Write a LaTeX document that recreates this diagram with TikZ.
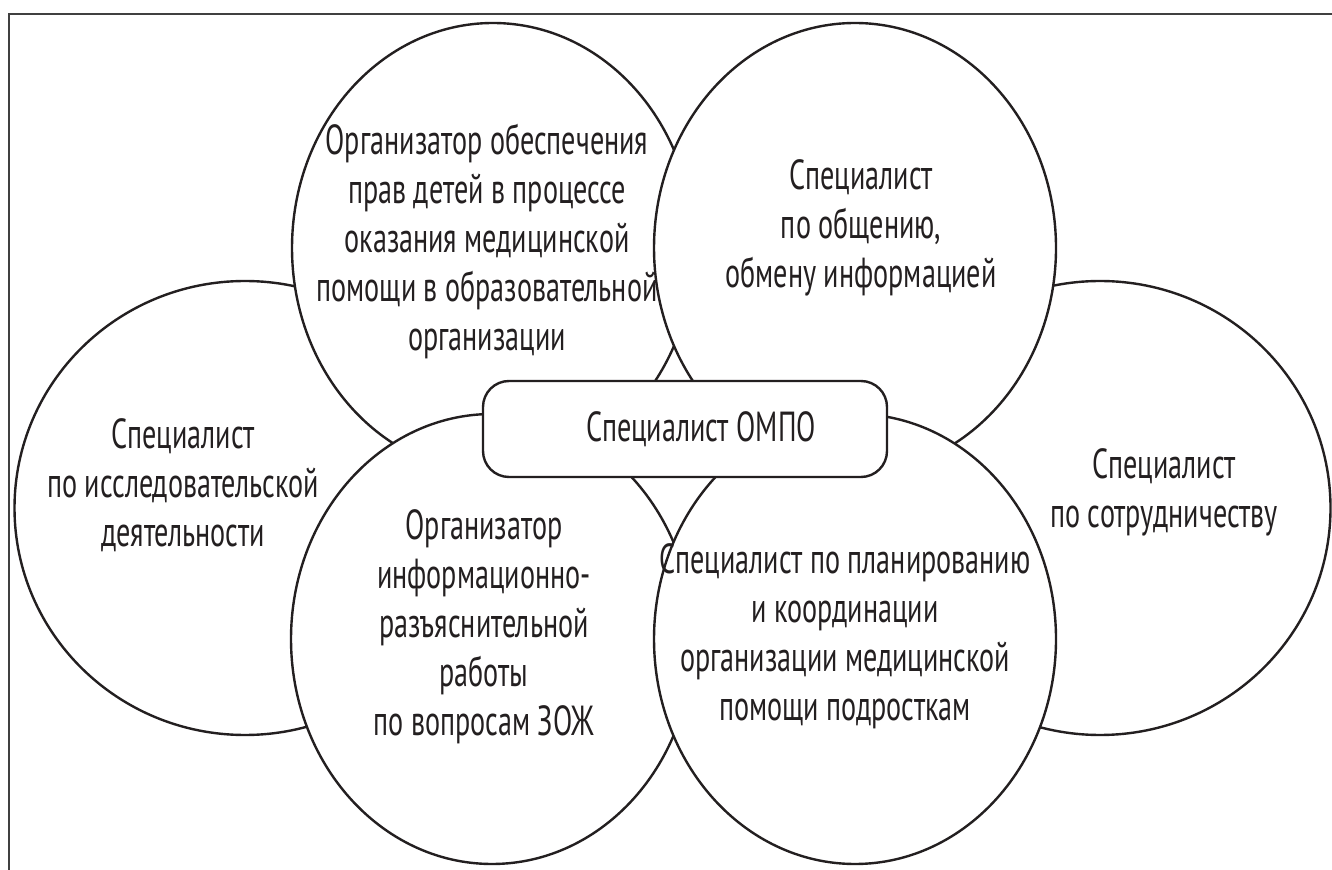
\documentclass[tikz,border=0pt]{standalone}
\usepackage{fontspec}
\setmainfont{PT Sans}[FakeStretch=0.67]
\usetikzlibrary{shapes.geometric}
\definecolor{ink}{HTML}{231F20}

\begin{document}
\begin{tikzpicture}[x=0.5pt, y=-0.5pt]
    \tikzstyle{role} = [ellipse, minimum width=201pt, minimum height=225pt, inner sep=0pt, draw=ink, line width=1.2pt, fill=white]
\tikzstyle{bigrole} = [role, minimum width=230.5pt, minimum height=227pt]
\tikzstyle{caption} = [align=center, inner sep=0pt, text=ink, font={\fontsize{21}{24.5}\selectfont}]
\tikzstyle{core} = [rectangle, rounded corners=13pt, minimum width=202pt, minimum height=48pt, draw=ink, line width=1.2pt, fill=white, text=ink, font={\fontsize{21}{24.5}\selectfont}]
\tikzstyle{frame} = [draw=black!75, line width=1pt]
    \useasboundingbox (0,0) rectangle (1332,870);
\fill[white] (0,0) rectangle (1332,870);
\clip (0,0) rectangle (1332,870);
\draw[frame] (9,14) rectangle (1350,890);

% outer pair
\node (issl) [bigrole] at (245,508) {};
\node (sotr) [bigrole] at (1100,508) {};
% upper pair
\node (prava) [role] at (493,248) {};
\node (obsh) [role] at (855,248) {};
% lower pair
\node (zozh) [role] at (492,639) {};
\node (plan) [role] at (855,639) {};
% centre
\node (ompo) [core] at (685,429) {\hspace*{16pt}Специалист ОМПО};

\node (issl-t) [caption] at ([shift={(-62,-23)}]issl.center) {Специалист\\по исследовательской\\деятельности};
\node (sotr-t) [caption] at ([shift={(64,-16)}]sotr.center) {Специалист\\по сотрудничеству};
\node (prava-t) [caption] at ([shift={(-6,-7)}]prava.center) {Организатор обеспечения\\прав детей в процессе\\оказания медицинской\\помощи в образовательной\\организации};
\node (obsh-t) [caption] at ([shift={(6,-20)}]obsh.center) {Специалист\\по общению,\\обмену информацией};
\node (zozh-t) [caption] at ([shift={(-8,-12)}]zozh.center) {Организатор\\информационно-\\разъяснительной\\работы\\по вопросам ЗОЖ};
\node (plan-t) [caption] at ([shift={(-10,-3)}]plan.center) {Специалист по планированию\\и координации\\организации медицинской\\помощи подросткам};
  \end{tikzpicture}
\end{document}
